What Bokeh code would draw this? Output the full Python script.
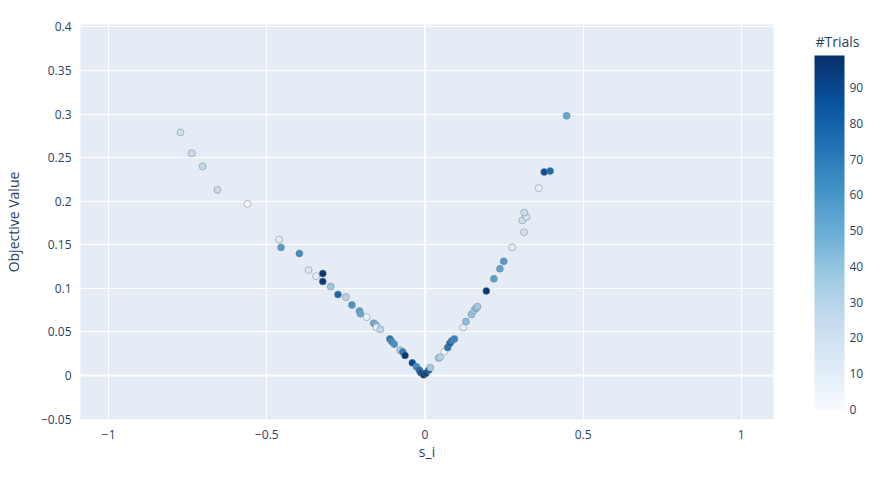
import numpy as np
from bokeh.plotting import figure
from bokeh.layouts import row
from bokeh.models import (LinearColorMapper, ColorBar, FixedTicker, CustomJSTickFormatter,
                          Span, ColumnDataSource, Range1d)
from bokeh.core.properties import value
from bokeh.embed import file_html
from bokeh.resources import INLINE

# ---- data ----
s_i = [-0.773, -0.737, -0.703, -0.656, -0.561, -0.461, -0.455, -0.397, -0.368, -0.344,
       -0.323, -0.323, -0.298, -0.275, -0.250, -0.231, -0.207, -0.204, -0.184, -0.162,
       -0.155, -0.153, -0.141, -0.111, -0.105, -0.097, -0.078, -0.070, -0.063, -0.040,
       -0.027, -0.018, -0.013, -0.004, 0.003, 0.012, 0.017,
       0.043, 0.048, 0.061, 0.072, 0.079, 0.085, 0.093, 0.121, 0.130, 0.147,
       0.156, 0.161, 0.166, 0.194, 0.218, 0.237, 0.249, 0.276, 0.313, 0.308,
       0.321, 0.314, 0.360, 0.377, 0.396, 0.448]
objective = [0.279, 0.255, 0.240, 0.213, 0.197, 0.156, 0.147, 0.140, 0.121, 0.114,
             0.117, 0.108, 0.102, 0.093, 0.090, 0.081, 0.074, 0.071, 0.067, 0.060,
             0.058, 0.055, 0.053, 0.042, 0.039, 0.036, 0.029, 0.027, 0.023, 0.0145,
             0.010, 0.0063, 0.0033, 0.0008, 0.0027, 0.0063, 0.0089,
             0.020, 0.021, 0.0275, 0.032, 0.037, 0.040, 0.042, 0.055, 0.062, 0.070,
             0.075, 0.077, 0.079, 0.097, 0.111, 0.1225, 0.131, 0.147, 0.1645, 0.178,
             0.182, 0.187, 0.215, 0.2335, 0.2346, 0.298]
trial = [22, 24, 26, 25, 3, 12, 57, 63, 14, 9,
         97, 94, 38, 78, 30, 60, 55, 52, 6, 50,
         45, 8, 28, 72, 66, 61, 35, 70, 96, 90,
         64, 76, 86, 98, 91, 84, 36,
         33, 31, 4, 73, 80, 71, 67, 11, 42, 40,
         34, 41, 37, 95, 56, 54, 58, 13, 20, 21,
         18, 23, 7, 88, 77, 53]

x_ticks = [-1, -0.5, 0, 0.5, 1]
y_ticks = [-0.05, 0, 0.05, 0.1, 0.15, 0.2, 0.25, 0.3, 0.35, 0.4]
cbar_ticks = [0, 10, 20, 30, 40, 50, 60, 70, 80, 90]
trial_min, trial_max = 0, 99
cbar_title = "#Trials"

# ---- Plotly "Blues" colorscale interpolated ----
anchors = [(247, 251, 255), (222, 235, 247), (198, 219, 239), (158, 202, 225), (107, 174, 214),
           (66, 146, 198), (33, 113, 181), (8, 81, 156), (8, 48, 107)]
pos = np.linspace(0, 1, len(anchors))
palette = []
for t in np.linspace(0, 1, 256):
    rgb = [int(round(np.interp(t, pos, [a[k] for a in anchors]))) for k in range(3)]
    palette.append("#%02x%02x%02x" % tuple(rgb))

mapper = LinearColorMapper(palette=palette, low=trial_min, high=trial_max)

FONT = "Open Sans"
TXT = "#2a3f5f"

H = 463
W1, W2 = 806, 66
BL, BR, BT, BB = 79, 33, 24, 32
FB = 419  # expected frame bottom (pixels from top)

p = figure(width=W1, height=H, output_backend="svg", toolbar_location=None,
           x_range=Range1d(-1.089, 1.102), y_range=Range1d(-0.0505, 0.4028),
           min_border_left=BL, min_border_right=BR, min_border_top=BT, min_border_bottom=BB)
p.background_fill_color = "#E5ECF6"
p.border_fill_color = "white"
p.outline_line_color = None

src = ColumnDataSource(dict(x=s_i, y=objective, t=trial))
p.scatter("x", "y", source=src, size=7, fill_color={"field": "t", "transform": mapper},
          line_color="grey", line_width=0.5)

fmt = CustomJSTickFormatter(code="""
var v = Math.round(tick*10000)/10000;
var s = v.toString();
return s.replace('-', '\u2212');
""")

p.xaxis.ticker = FixedTicker(ticks=x_ticks)
p.yaxis.ticker = FixedTicker(ticks=y_ticks)
for ax in (p.xaxis[0], p.yaxis[0]):
    ax.formatter = fmt
    ax.axis_line_color = None
    ax.major_tick_line_color = None
    ax.minor_tick_line_color = None
    ax.major_label_text_font = FONT
    ax.major_label_text_font_size = "12px"
    ax.major_label_text_color = TXT
    ax.axis_label_text_font = FONT
    ax.axis_label_text_font_size = "14px"
    ax.axis_label_text_color = TXT
    ax.axis_label_text_font_style = "normal"
p.xaxis.axis_label = "s_i"
p.yaxis.axis_label = "Objective Value"
p.xaxis.major_label_standoff = 4
p.xaxis.axis_label_standoff = 0
p.yaxis.major_label_standoff = 3
p.yaxis.axis_label_standoff = 15

p.grid.grid_line_color = "white"
p.grid.grid_line_width = 1
p.add_layout(Span(location=0, dimension="height", line_color="white", line_width=2, level="underlay"))
p.add_layout(Span(location=0, dimension="width", line_color="white", line_width=2, level="underlay"))

# ---- side panel holding the colour bar and its title (pixel coordinates) ----
side = figure(width=W2, height=H, output_backend="svg", toolbar_location=None,
              x_range=Range1d(0, W2), y_range=Range1d(FB, BT),
              min_border_left=0, min_border_right=0, min_border_top=0, min_border_bottom=0)
side.axis.visible = False
side.grid.visible = False
side.outline_line_color = None
side.background_fill_color = "white"
side.border_fill_color = "white"

side.text(x=[9], y=[41], text=[cbar_title], text_font=value(FONT), text_font_size="14px",
          text_color=TXT, text_align="left", text_baseline="middle")

cb = ColorBar(color_mapper=mapper, ticker=FixedTicker(ticks=cbar_ticks), width=30, height=354,
              orientation="vertical",
              major_label_text_font=FONT, major_label_text_font_size="12px",
              major_label_text_color=TXT, major_tick_line_color=None, bar_line_color=None,
              label_standoff=5, margin=0, padding=0, border_line_color=None,
              background_fill_alpha=0, location=(8, 10))
side.add_layout(cb, "center")

layout = row(p, side, spacing=0)
open("out.html", "w").write(file_html(layout, INLINE))
